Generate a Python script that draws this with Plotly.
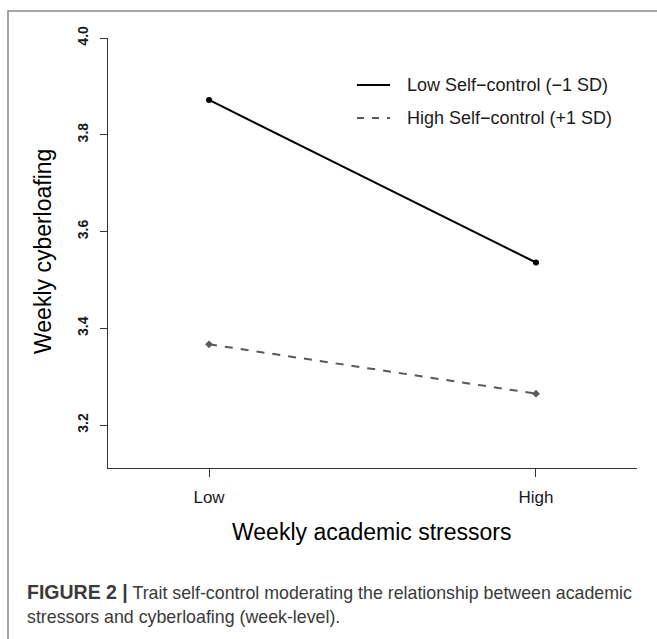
import plotly.graph_objects as go

categories = ["Low", "High"]
low_sc = [3.872, 3.536]
high_sc = [3.367, 3.265]
series_names = ["Low Self\u2212control (\u22121 SD)", "High Self\u2212control (+1 SD)"]
y_ticks = [3.2, 3.4, 3.6, 3.8, 4.0]

W, H = 657, 639
L, R, T, B = 108, 20, 38, 171
pw, ph = W - L - R, H - T - B

def px(x):
    return (x - L) / pw

def py(y):
    return (H - B - y) / ph

FONT = "Liberation Sans, Arial, sans-serif"

fig = go.Figure()
fig.add_trace(go.Scatter(x=categories, y=low_sc, mode="lines+markers",
                         line=dict(color="black", width=2),
                         marker=dict(color="black", size=6, symbol="circle"),
                         name=series_names[0], showlegend=False))
fig.add_trace(go.Scatter(x=categories, y=high_sc, mode="lines+markers",
                         line=dict(color="#595959", width=2, dash="8px,8px"),
                         marker=dict(color="#595959", size=6, symbol="diamond"),
                         name=series_names[1], showlegend=False))

shapes = []
annotations = []
# outer frame
shapes.append(dict(type="rect", xref="paper", yref="paper",
                   x0=px(8), x1=px(700), y0=py(700), y1=py(11),
                   line=dict(color="#8a8a8a", width=1.5), layer="below"))
# legend
leg_rows = [85, 118]
leg_styles = [dict(color="black", width=2), dict(color="#595959", width=2, dash="7px,8px")]
for name, yy, st in zip(series_names, leg_rows, leg_styles):
    shapes.append(dict(type="line", xref="paper", yref="paper",
                       x0=px(357), x1=px(390), y0=py(yy), y1=py(yy), line=st))
    annotations.append(dict(text=name, xref="paper", yref="paper", x=px(405), y=py(yy),
                            xanchor="left", yanchor="middle", showarrow=False,
                            font=dict(size=18, color="#1a1a1a", family=FONT)))
# axis titles
annotations.append(dict(text="Weekly academic stressors", xref="paper", yref="paper",
                        x=px(372), y=py(532), xanchor="center", yanchor="middle", showarrow=False,
                        font=dict(size=23, color="black", family=FONT)))
annotations.append(dict(text="Weekly cyberloafing", xref="paper", yref="paper",
                        x=px(43), y=py(252), xanchor="center", yanchor="middle", showarrow=False,
                        textangle=-90, font=dict(size=23, color="black", family=FONT)))
# caption
cap1 = "<b><span style='font-size:19.5px'>FIGURE 2 |</span></b> Trait self-control moderating the relationship between academic"
cap2 = "stressors and cyberloafing (week-level)."
for txt, yy in [(cap1, 592), (cap2, 617)]:
    annotations.append(dict(text=txt, xref="paper", yref="paper", x=px(25), y=py(yy),
                            xanchor="left", yanchor="middle", showarrow=False,
                            font=dict(size=17.8, color="#3a3a3a", family=FONT)))

fig.update_layout(
    width=W, height=H,
    margin=dict(l=L, r=R, t=T, b=B, pad=0),
    paper_bgcolor="white", plot_bgcolor="white",
    font=dict(family=FONT, color="black"),
    shapes=shapes, annotations=annotations,
    showlegend=False,
    xaxis=dict(type="category", range=[-0.309, 1.309], showgrid=False, zeroline=False,
               showline=True, linecolor="#333", linewidth=1.2,
               ticks="outside", ticklen=8, tickcolor="#333", tickwidth=1,
               ticklabelstandoff=5,
               tickfont=dict(size=17, color="#1a1a1a")),
    yaxis=dict(range=[3.1113, 4.0], showgrid=False, zeroline=False,
               showline=True, linecolor="#333", linewidth=1.2,
               tickvals=y_ticks, ticktext=[f"<b>{v:.1f}</b>" for v in y_ticks],
               ticks="outside", ticklen=7, tickcolor="#333", tickwidth=1,
               ticklabelstandoff=6,
               tickangle=-90, tickfont=dict(size=14, color="#1a1a1a")),
)

fig.write_html("out.html", config={"displayModeBar": False},
               post_script="document.body.style.margin='0';")
